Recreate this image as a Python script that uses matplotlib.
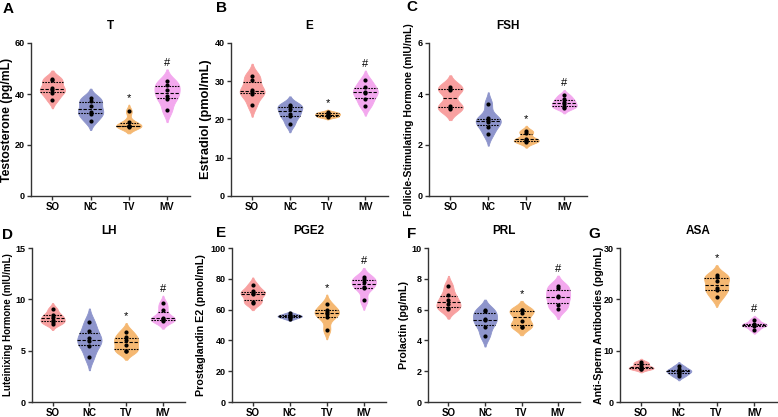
import numpy as np
import matplotlib
matplotlib.use("Agg")
import matplotlib.pyplot as plt

plt.rcParams['font.family'] = ['Liberation Sans', 'DejaVu Sans']
plt.rcParams['font.weight'] = 'bold'

groups = ['SO', 'NC', 'TV', 'MV']
colors = ['#F8A0A0', '#8E95CC', '#F5B872', '#F3A8EE']

# values per group (SO, NC, TV, MV)
t_data = [[45.5, 45.8, 42.5, 41.5, 40.5, 37.8],
          [38.4, 37.3, 35.1, 32.9, 32.2, 29.6],
          [33.2, 29.2, 27.5, 27.4, 27.3, 27.2],
          [45.0, 43.6, 41.7, 39.4, 38.0, 33.6]]
e_data = [[31.5, 30.4, 27.6, 27.3, 26.7, 23.8],
          [23.9, 23.5, 22.8, 21.4, 20.8, 18.8],
          [22.0, 21.7, 21.4, 21.2, 20.8, 20.6],
          [30.2, 28.5, 27.3, 26.9, 25.3, 23.6]]
fsh_data = [[4.28, 4.20, 4.15, 3.52, 3.47, 3.43],
            [3.62, 3.05, 3.00, 2.92, 2.72, 2.42],
            [2.55, 2.48, 2.25, 2.20, 2.15, 2.10],
            [3.95, 3.80, 3.70, 3.60, 3.50, 3.45]]
lh_data = [[9.05, 8.5, 8.3, 8.0, 7.8, 7.6],
           [7.8, 6.9, 6.2, 5.9, 5.5, 4.4],
           [6.85, 6.3, 6.0, 5.6, 5.0, 4.95],
           [9.6, 9.0, 8.2, 8.1, 8.0, 7.9]]
pge2_data = [[76.0, 72.0, 70.5, 70.0, 65.0, 64.5],
             [57.5, 56.5, 56.0, 55.5, 55.0, 54.0],
             [63.5, 60.0, 58.5, 57.0, 55.0, 47.0],
             [81.0, 80.0, 78.0, 75.0, 74.0, 66.0]]
prl_data = [[7.55, 6.95, 6.65, 6.35, 6.10, 6.05],
            [5.95, 5.90, 5.40, 5.30, 4.90, 4.30],
            [6.00, 5.95, 5.75, 5.25, 4.90, 4.90],
            [7.55, 7.40, 6.90, 6.80, 6.30, 6.05]]
asa_data = [[7.8, 7.5, 7.0, 6.7, 6.5, 6.4],
            [7.0, 6.4, 6.1, 5.9, 5.5, 5.0],
            [24.8, 24.3, 23.5, 22.2, 21.8, 20.4],
            [16.0, 15.2, 15.0, 14.9, 14.1]]

titles = ['T', 'E', 'FSH', 'LH', 'PGE2', 'PRL', 'ASA']
letters = ['A', 'B', 'C', 'D', 'E', 'F', 'G']
ylabels = ['Testosterone (pg/mL)', 'Estradiol (pmol/mL)',
           'Follicle-Stimulating Hormone (mIU/mL)', 'Luteinixing Hormone (mIU/mL)',
           'Prostaglandin E2 (pmol/mL)', 'Prolactin (pg/mL)',
           'Anti-Sperm Antibodies (pg/mL)']
ymax = [60, 40, 6, 15, 100, 10, 30]
ystep = [20, 10, 2, 5, 20, 2, 10]
all_data = [t_data, e_data, fsh_data, lh_data, pge2_data, prl_data, asa_data]

W, H = 778, 417
# axes boxes in pixels: left, top, right, bottom
boxes = [(31, 43, 190, 196), (231, 43, 388, 196), (429, 43, 587, 196),
         (32, 248, 185, 402), (232, 248, 386, 402), (428, 248, 580, 402),
         (620, 248, 777, 402)]
# panel letter positions (left, top) in pixels
letter_xy = [(3, 2), (216, 1), (406, 0), (2, 228), (216, 226), (407, 227), (588, 227)]
ylabel_size = [8.8, 9.2, 7.5, 7.0, 7.7, 7.7, 7.7]
ylabel_right = [13, 212, 414, 13, 206, 409, 604]


def kde(vals, grid, bw):
    v = np.asarray(vals)[:, None]
    return np.exp(-0.5 * ((grid[None, :] - v) / bw) ** 2).sum(axis=0)


def violin(ax, vals, pos, color, half=0.33):
    vals = np.asarray(vals, float)
    bw = max(vals.std(ddof=1), 1e-6) * len(vals) ** (-0.2) * 0.8
    grid = np.linspace(vals.min() - 2 * bw, vals.max() + 2 * bw, 300)
    d = kde(vals, grid, bw)
    d = d / d.max() * half
    ax.fill_betweenx(grid, pos - d, pos + d, color=color, lw=0.6, zorder=2)
    q1, med, q3 = np.percentile(vals, [25, 50, 75])
    for q, ls in [(q1, (0, (1.5, 1))), (med, (0, (3, 1.5))), (q3, (0, (1.5, 1)))]:
        w = np.interp(q, grid, d)
        ax.plot([pos - w, pos + w], [q, q], color='black', lw=0.8, ls=ls, zorder=3)
    ax.scatter(np.full(len(vals), pos), vals, s=9, color='black', zorder=4, lw=0)
    return grid.max()


fig = plt.figure(figsize=(W / 100, H / 100), dpi=100)
for i, data in enumerate(all_data):
    l, t, r, b = boxes[i]
    ax = fig.add_axes([l / W, 1 - b / H, (r - l) / W, (b - t) / H])
    tops = []
    for j, vals in enumerate(data):
        tops.append(violin(ax, vals, j, colors[j]))
    off = 0.045 * ymax[i]
    ax.text(2, tops[2] + off, '*', ha='center', va='center', fontsize=8, fontweight='normal')
    ax.text(3, tops[3] + off, '#', ha='center', va='center', fontsize=8, fontweight='normal')
    ax.set_xlim(-0.56, 3.6)
    ax.set_ylim(0, ymax[i])
    ax.set_yticks(np.arange(0, ymax[i] + 0.01, ystep[i]))
    ax.set_xticks(range(4))
    ax.set_xticklabels(groups)
    for s in ['top', 'right']:
        ax.spines[s].set_visible(False)
    for s in ['left', 'bottom']:
        ax.spines[s].set_linewidth(1.0)
        ax.spines[s].set_color('#333333')
    ax.tick_params(axis='both', labelsize=6.5, width=1.0, length=3, color='#333333', pad=1.5)
    ax.tick_params(axis='x', labelsize=7)
    ax.set_ylabel(ylabels[i], fontsize=ylabel_size[i], fontweight='bold')
    ax.yaxis.set_label_coords((ylabel_right[i] - l) / (r - l), 0.5)
    ax.set_title(titles[i], fontsize=8.5, fontweight='bold', pad=10)
    lx, ly = letter_xy[i]
    fig.text(lx / W, 1 - ly / H, letters[i], fontsize=11, fontweight='bold',
             ha='left', va='top')

fig.savefig('out.png', dpi=100)
